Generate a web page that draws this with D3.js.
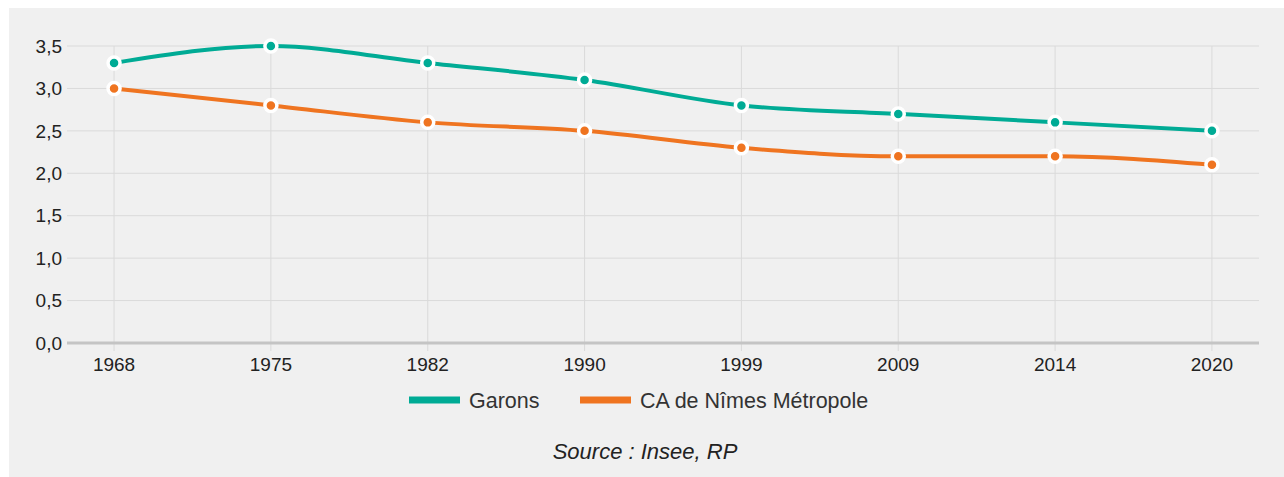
<!DOCTYPE html>
<html>
<head>
<meta charset="utf-8">
<script src="https://cdn.jsdelivr.net/npm/d3@7"></script>
<style>
  body { margin: 0; background: #fff; }
  svg { display: block; font-family: "Liberation Sans", Arial, sans-serif; }
</style>
</head>
<body>
<div id="chart"></div>
<script>
const years = ['1968', '1975', '1982', '1990', '1999', '2009', '2014', '2020'];
const garons = [3.3, 3.5, 3.3, 3.1, 2.8, 2.7, 2.6, 2.5];
const nimes = [3.0, 2.8, 2.6, 2.5, 2.3, 2.2, 2.2, 2.1];
const yTicks = [0, 0.5, 1, 1.5, 2, 2.5, 3, 3.5];
const seriesNames = ['Garons', 'CA de Nîmes Métropole'];
const colors = ['#00ab95', '#ef7420'];

const width = 1284, height = 477;
const svg = d3.select('#chart').append('svg')
    .attr('width', width)
    .attr('height', height);

svg.append('rect')
    .attr('x', 9).attr('y', 8)
    .attr('width', width - 9).attr('height', height - 8)
    .attr('fill', '#f0f0f0');

const plot = { left: 67, right: 1259, top: 46, bottom: 343 };

const x = d3.scalePoint()
    .domain(years)
    .range([plot.left, plot.right])
    .padding(0.3);

const y = d3.scaleLinear()
    .domain([0, 3.5])
    .range([plot.bottom, plot.top]);

const fmt = d => d3.format('.1f')(d).replace('.', ',');

// horizontal grid
svg.append('g')
    .selectAll('line')
    .data(yTicks.filter(d => d > 0))
    .enter()
    .append('line')
    .attr('x1', plot.left).attr('x2', plot.right)
    .attr('y1', d => y(d)).attr('y2', d => y(d))
    .attr('stroke', '#dadada')
    .attr('stroke-width', 1);

// vertical grid + ticks
svg.append('g')
    .selectAll('line')
    .data(years)
    .enter()
    .append('line')
    .attr('x1', d => x(d)).attr('x2', d => x(d))
    .attr('y1', plot.top).attr('y2', plot.bottom + 8)
    .attr('stroke', '#dadada')
    .attr('stroke-width', 1);

// baseline
svg.append('line')
    .attr('x1', plot.left).attr('x2', plot.right)
    .attr('y1', y(0)).attr('y2', y(0))
    .attr('stroke', '#c4c4c4')
    .attr('stroke-width', 3);

// y labels
svg.append('g')
    .selectAll('text')
    .data(yTicks)
    .enter()
    .append('text')
    .attr('x', 62)
    .attr('y', d => y(d))
    .attr('dy', '0.35em')
    .attr('text-anchor', 'end')
    .attr('font-size', 19)
    .attr('fill', '#222')
    .text(fmt);

// x labels
svg.append('g')
    .selectAll('text')
    .data(years)
    .enter()
    .append('text')
    .attr('x', d => x(d))
    .attr('y', 371)
    .attr('text-anchor', 'middle')
    .attr('font-size', 19)
    .attr('fill', '#222')
    .text(d => d);

const line = d3.line()
    .x((d, i) => x(years[i]))
    .y(d => y(d))
    .curve(d3.curveMonotoneX);

[garons, nimes].forEach((values, s) => {
    const g = svg.append('g');
    g.append('path')
        .datum(values)
        .attr('fill', 'none')
        .attr('stroke', colors[s])
        .attr('stroke-width', 4)
        .attr('d', line);
    g.selectAll('circle')
        .data(values)
        .enter()
        .append('circle')
        .attr('cx', (d, i) => x(years[i]))
        .attr('cy', d => y(d))
        .attr('r', 6)
        .attr('fill', colors[s])
        .attr('stroke', '#fff')
        .attr('stroke-width', 3.5);
});

// legend
const legendItems = [
    { name: seriesNames[0], color: colors[0], x: 409 },
    { name: seriesNames[1], color: colors[1], x: 580 }
];
const legend = svg.append('g');
legendItems.forEach(item => {
    legend.append('line')
        .attr('x1', item.x).attr('x2', item.x + 51)
        .attr('y1', 400).attr('y2', 400)
        .attr('stroke', item.color)
        .attr('stroke-width', 7);
    legend.append('text')
        .attr('x', item.x + 60)
        .attr('y', 400)
        .attr('dy', '0.35em')
        .attr('font-size', 21.5)
        .attr('fill', '#333')
        .text(item.name);
});

svg.append('text')
    .attr('x', 645)
    .attr('y', 459)
    .attr('text-anchor', 'middle')
    .attr('font-size', 22)
    .attr('font-style', 'italic')
    .attr('fill', '#222')
    .text('Source : Insee, RP');
</script>
</body>
</html>
